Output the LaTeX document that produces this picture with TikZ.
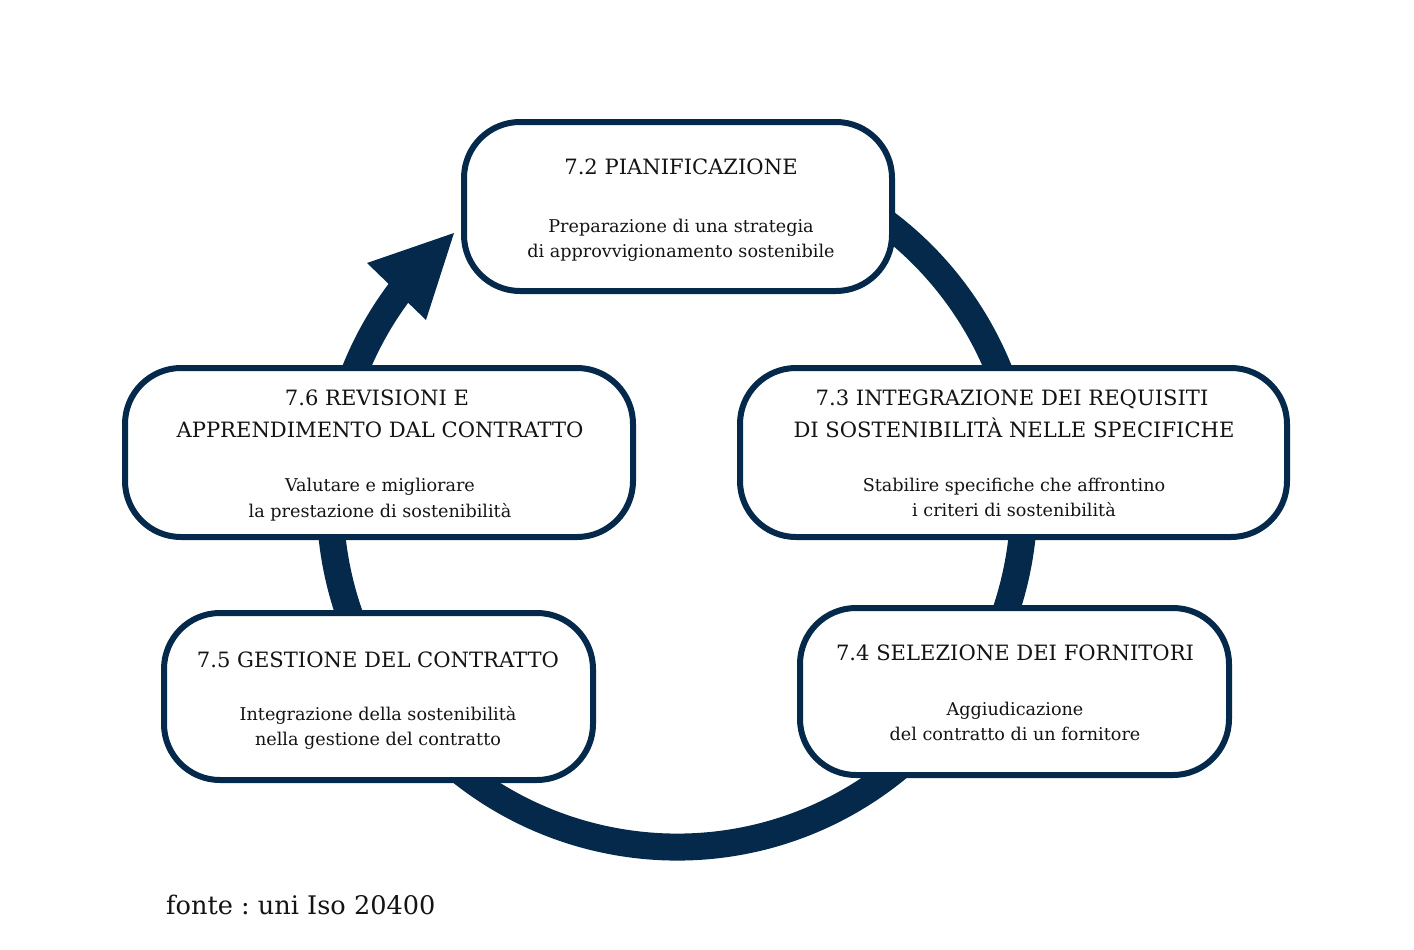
\documentclass[tikz,border=0pt]{standalone}
\usepackage{fontspec}
\setmainfont{DejaVu Serif}
\frenchspacing
\definecolor{navy}{HTML}{05294B}
\definecolor{ink}{HTML}{141414}
\begin{document}
\begin{tikzpicture}[x=1pt,y=1pt,
  stagebox/.style={draw=navy, line width=6pt, fill=white, rounded corners=56pt, inner sep=0pt},
  ttl/.style={anchor=base, inner sep=0pt, text=ink, font=\fontsize{21.1}{25}\selectfont},
  sub/.style={anchor=base, inner sep=0pt, text=ink, font=\fontsize{17.6}{21}\selectfont},
  ringline/.style={draw=navy, line width=27pt}]
\useasboundingbox (0,0) rectangle (1414,-950);
\fill[white] (0,0) rectangle (1414,-950);
% ring
\coordinate (ringstart) at (478,-215.8);
\coordinate (headL) at (367,-263);
\coordinate (headR) at (426,-320);
\coordinate (headTip) at (454,-233);
\draw[ringline] (ringstart) arc[start angle=125, end angle=-217.5, radius=347pt];
\fill[navy] (headL) -- (headTip) -- (headR) -- cycle;
% boxes
\node[stagebox, minimum width=428pt, minimum height=169pt] (b72) at (678,-206.5) {};
\node[stagebox, minimum width=547pt, minimum height=169pt] (b73) at (1013.5,-452.5) {};
\node[stagebox, minimum width=508pt, minimum height=169pt] (b76) at (379,-452.5) {};
\node[stagebox, minimum width=429pt, minimum height=167pt] (b75) at (378.5,-696.5) {};
\node[stagebox, minimum width=429pt, minimum height=167pt] (b74) at (1014.5,-691.5) {};
% texts
\node[ttl] (t72) at (681,-174) {7.2 PIANIFICAZIONE};
\node[sub] (s72a) at (681,-232) {Preparazione di una strategia};
\node[sub] (s72b) at (681,-257) {di approvvigionamento sostenibile};
\node[ttl] (t73a) at (1012,-405) {7.3 INTEGRAZIONE DEI REQUISITI};
\node[ttl] (t73b) at (1014,-437) {DI SOSTENIBILITÀ NELLE SPECIFICHE};
\node[sub] (s73a) at (1014,-491) {Stabilire specifiche che affrontino};
\node[sub] (s73b) at (1014,-516) {i criteri di sostenibilità};
\node[ttl] (t76a) at (377,-405) {7.6 REVISIONI E};
\node[ttl] (t76b) at (380,-437) {APPRENDIMENTO DAL CONTRATTO};
\node[sub] (s76a) at (380,-491) {Valutare e migliorare};
\node[sub] (s76b) at (380,-517) {la prestazione di sostenibilità};
\node[ttl] (t75) at (378,-667) {7.5 GESTIONE DEL CONTRATTO};
\node[sub] (s75a) at (378,-720) {Integrazione della sostenibilità};
\node[sub] (s75b) at (378,-745) {nella gestione del contratto};
\node[ttl] (t74) at (1015,-660) {7.4 SELEZIONE DEI FORNITORI};
\node[sub] (s74a) at (1015,-715) {Aggiudicazione};
\node[sub] (s74b) at (1015,-740) {del contratto di un fornitore};
\node[anchor=base west, inner sep=0pt, text=ink, font=\fontsize{25.6}{30}\selectfont] (src) at (166,-914) {fonte : uni Iso 20400};
\end{tikzpicture}
\end{document}
